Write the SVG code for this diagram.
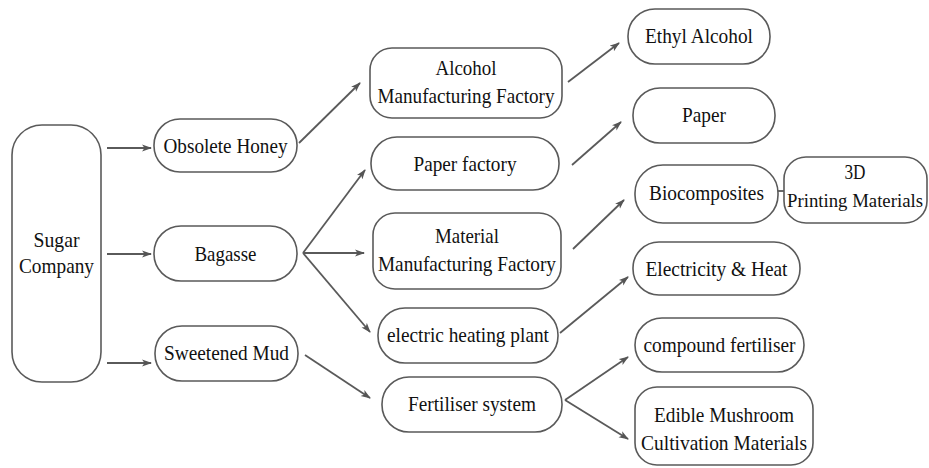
<svg xmlns="http://www.w3.org/2000/svg" width="929" height="468" viewBox="0 0 929 468">
<defs>
<marker id="ah" viewBox="0 0 10 8" refX="9" refY="4" markerWidth="10" markerHeight="8" markerUnits="userSpaceOnUse" orient="auto">
<path d="M0,0.5 L10,4 L0,7.5 L2.5,4 Z" fill="#555"/>
</marker>
</defs>
<style>
rect{fill:#fff;stroke:#5a5a5a;stroke-width:1.6}
text{fill:#111;text-anchor:middle;font-family:'Liberation Serif','Times New Roman',serif;font-size:21px}
.c line{stroke:#5a5a5a;stroke-width:1.8;fill:none}
</style>
<rect x="0" y="0" width="929" height="468" style="fill:#fff;stroke:none"/>
<g class="c" id="connectors">
<line x1="107" y1="148" x2="151" y2="148" marker-end="url(#ah)"/>
<line x1="107" y1="254" x2="151" y2="254" marker-end="url(#ah)"/>
<line x1="107" y1="363" x2="151" y2="363" marker-end="url(#ah)"/>
<line x1="299" y1="143" x2="360" y2="83" marker-end="url(#ah)"/>
<line x1="303" y1="253" x2="365" y2="170" marker-end="url(#ah)"/>
<line x1="303" y1="253" x2="364" y2="253" marker-end="url(#ah)"/>
<line x1="303" y1="253" x2="370" y2="332" marker-end="url(#ah)"/>
<line x1="305" y1="355" x2="370" y2="398" marker-end="url(#ah)"/>
<line x1="568" y1="82" x2="619" y2="43" marker-end="url(#ah)"/>
<line x1="572" y1="165" x2="621" y2="122" marker-end="url(#ah)"/>
<line x1="573" y1="249" x2="624" y2="200" marker-end="url(#ah)"/>
<line x1="560" y1="333" x2="628" y2="277" marker-end="url(#ah)"/>
<line x1="565" y1="400" x2="628" y2="357" marker-end="url(#ah)"/>
<line x1="565" y1="400" x2="628" y2="439" marker-end="url(#ah)"/>
<line x1="778" y1="191" x2="784" y2="191"/>
</g>
<g id="sugar-company"><rect x="12" y="125" width="89" height="257" rx="30"/><text x="56.5" y="247" textLength="46" lengthAdjust="spacingAndGlyphs">Sugar</text><text x="56.5" y="273" textLength="75" lengthAdjust="spacingAndGlyphs">Company</text></g>
<g id="obsolete-honey"><rect x="154" y="119" width="143" height="53" rx="26"/><text x="225.5" y="153" textLength="124" lengthAdjust="spacingAndGlyphs">Obsolete Honey</text></g>
<g id="bagasse"><rect x="154" y="226" width="143" height="55" rx="27"/><text x="225.5" y="261" textLength="62" lengthAdjust="spacingAndGlyphs">Bagasse</text></g>
<g id="sweetened-mud"><rect x="155" y="326" width="143" height="55" rx="27"/><text x="226.5" y="360" textLength="125" lengthAdjust="spacingAndGlyphs">Sweetened Mud</text></g>
<g id="alcohol-factory"><rect x="370" y="48" width="192" height="70" rx="22"/><text x="466" y="75" textLength="61" lengthAdjust="spacingAndGlyphs">Alcohol</text><text x="466" y="103" textLength="177" lengthAdjust="spacingAndGlyphs">Manufacturing Factory</text></g>
<g id="paper-factory"><rect x="371" y="137" width="188" height="53" rx="26"/><text x="465" y="171" textLength="103" lengthAdjust="spacingAndGlyphs">Paper factory</text></g>
<g id="material-factory"><rect x="373" y="213" width="188" height="76" rx="22"/><text x="467" y="243" textLength="64" lengthAdjust="spacingAndGlyphs">Material</text><text x="467" y="271" textLength="178" lengthAdjust="spacingAndGlyphs">Manufacturing Factory</text></g>
<g id="electric-heating-plant"><rect x="378" y="308" width="180" height="55" rx="27"/><text x="468" y="342" textLength="162" lengthAdjust="spacingAndGlyphs">electric heating plant</text></g>
<g id="fertiliser-system"><rect x="382" y="377" width="180" height="55" rx="27"/><text x="472" y="411" textLength="128" lengthAdjust="spacingAndGlyphs">Fertiliser system</text></g>
<g id="ethyl-alcohol"><rect x="628" y="9" width="142" height="55" rx="27"/><text x="699" y="43" textLength="108" lengthAdjust="spacingAndGlyphs">Ethyl Alcohol</text></g>
<g id="paper"><rect x="633" y="88" width="142" height="55" rx="27"/><text x="704" y="122" textLength="44" lengthAdjust="spacingAndGlyphs">Paper</text></g>
<g id="biocomposites"><rect x="635" y="165" width="143" height="58" rx="28"/><text x="706.5" y="200" textLength="115" lengthAdjust="spacingAndGlyphs">Biocomposites</text></g>
<g id="printing-materials"><rect x="784" y="157" width="143" height="66" rx="22"/><text x="855" y="179" textLength="21" lengthAdjust="spacingAndGlyphs">3D</text><text x="855" y="207" style="font-size:19px" textLength="136" lengthAdjust="spacingAndGlyphs">Printing Materials</text></g>
<g id="electricity-heat"><rect x="633" y="242" width="167" height="53" rx="26"/><text x="716.5" y="276" textLength="142" lengthAdjust="spacingAndGlyphs">Electricity &amp; Heat</text></g>
<g id="compound-fertiliser"><rect x="635" y="318" width="169" height="54" rx="27"/><text x="719.5" y="352" textLength="152" lengthAdjust="spacingAndGlyphs">compound fertiliser</text></g>
<g id="edible-mushroom"><rect x="635" y="387" width="178" height="78" rx="22"/><text x="724" y="422" textLength="140" lengthAdjust="spacingAndGlyphs">Edible Mushroom</text><text x="724" y="450" textLength="166" lengthAdjust="spacingAndGlyphs">Cultivation Materials</text></g>
</svg>
